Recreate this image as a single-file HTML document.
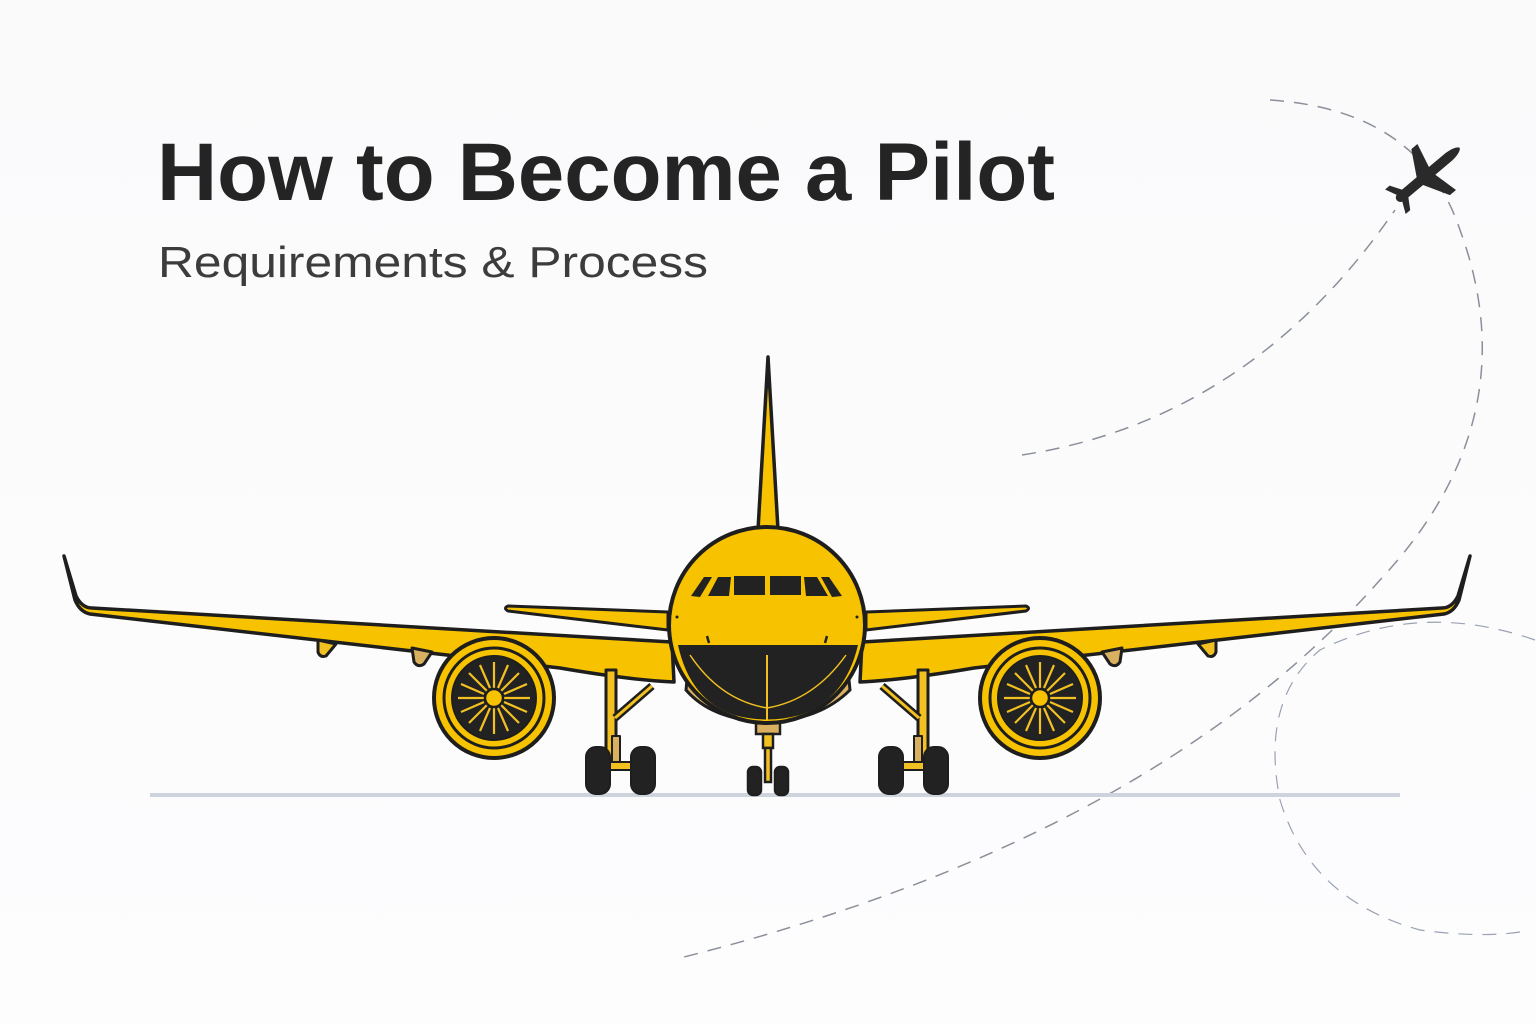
<!DOCTYPE html>
<html><head><meta charset="utf-8"><style>
html,body{margin:0;padding:0;background:#fdfdfe}
svg{display:block}
</style></head><body>
<svg width="1536" height="1024" viewBox="0 0 1536 1024" xmlns="http://www.w3.org/2000/svg">
<defs>
<linearGradient id="bg" x1="0" y1="0" x2="0" y2="1"><stop offset="0" stop-color="#fafafb"/><stop offset="1" stop-color="#fdfdfe"/></linearGradient>
<g id="half" stroke="#1e1e1e" stroke-width="4" stroke-linejoin="round">
  <!-- wing -->
  <path d="M64,556 L76,596 Q82,608 92,608 L672,642 L674,682 Q630,680 560,668 L90,614 Q80,612 75,600 Z" fill="#f7c200" stroke-width="3.5"/>
  <path d="M318,640 L318,652 Q320,658 326,656 L336,644 Z" fill="#f2c020" stroke-width="3"/>
  <path d="M412,648 L414,662 Q418,668 424,664 L432,652 Z" fill="#d8b060" stroke-width="3"/>
  <!-- stabilizer -->
  <path d="M508,606 L668,612 L668,630 L508,611 Q503,608 508,606 Z" fill="#f7c200" stroke-width="3"/>
  <!-- main gear -->
  <rect x="606" y="670" width="10" height="92" fill="#f2c020" stroke-width="3"/>
  <path d="M615,718 L652,686" stroke-width="8"/><path d="M615,718 L652,686" stroke="#f2c020" stroke-width="3"/>
  <rect x="612" y="736" width="8" height="30" fill="#d8b060" stroke-width="2"/>
  <rect x="597" y="762" width="40" height="8" fill="#f2c020" stroke-width="2"/>
  <rect x="586" y="747" width="24" height="47" rx="10" fill="#222" stroke-width="2"/>
  <rect x="631" y="747" width="24" height="47" rx="10" fill="#222" stroke-width="2"/>
  <!-- engine -->
  <circle cx="494" cy="698" r="60" fill="#f7c200" stroke-width="4"/>
  <circle cx="494" cy="698" r="50" fill="none" stroke-width="3"/>
  <circle cx="494" cy="698" r="42" fill="#222" stroke-width="2"/>
  <g stroke="#f2c020" stroke-width="2.2">
    <path d="M494,662 L494,688 M494,708 L494,734 M458,698 L484,698 M504,698 L530,698 M469,673 L487,691 M501,705 L519,723 M519,673 L501,691 M487,705 L469,723 M480,665 L490,688 M498,708 L508,731 M461,684 L484,694 M504,702 L527,712 M508,665 L498,688 M490,708 L480,731 M527,684 L504,694 M484,702 L461,712"/>
  </g>
  <circle cx="494" cy="698" r="9" fill="#f7c200" stroke-width="2.5"/>
</g>
</defs>
<rect width="1536" height="1024" fill="url(#bg)"/>
<!-- dashed flight paths -->
<g fill="none" stroke="#8a8f9a" stroke-width="1.5" stroke-dasharray="14 10">
  <path d="M1022,455 Q1250,420 1395,210"/>
  <path d="M1270,100 Q1420,110 1460,230 Q1530,420 1380,580 Q1150,840 680,958"/>
  <path d="M1535,640 Q1420,600 1320,650 Q1260,700 1280,800 Q1310,900 1420,930 Q1480,938 1520,932" stroke="#9aa2b2" stroke-width="1.2"/>
</g>
<!-- small plane icon -->
<g transform="translate(1426,176) rotate(-40)" fill="#2a2a2a">
  <path d="M-38,0 Q-38,-5 -30,-5 L-8,-5 L6,-30 L14,-30 L8,-5 L30,-5 Q42,-4 44,0 Q42,4 30,5 L8,5 L14,30 L6,30 L-8,5 L-30,5 Q-38,5 -38,0 Z"/>
  <path d="M-34,-3 L-40,-16 L-34,-16 L-26,-3 Z M-34,3 L-40,16 L-34,16 L-26,3 Z"/>
</g>
<!-- title -->
<text x="157" y="200" font-family="Liberation Sans, sans-serif" font-weight="700" font-size="82" fill="#242424" textLength="898" lengthAdjust="spacingAndGlyphs">How to Become a Pilot</text>
<text x="158" y="277" font-family="Liberation Sans, sans-serif" font-size="44" fill="#3c3c3c" textLength="550" lengthAdjust="spacingAndGlyphs">Requirements &amp; Process</text>
<!-- ground -->
<rect x="150" y="793" width="1250" height="4" fill="#cdd4de"/>
<!-- tail fin -->
<path d="M768,357 L758,530 L778,530 Z" fill="#f7c200" stroke="#1e1e1e" stroke-width="3.5" stroke-linejoin="round"/>
<use href="#half"/>
<use href="#half" transform="translate(1534,0) scale(-1,1)"/>
<!-- nose gear -->
<g stroke="#1e1e1e" stroke-width="2.5">
  <rect x="756" y="722" width="24" height="12" fill="#d8b060"/>
  <rect x="763" y="734" width="10" height="14" fill="#f2c020"/>
  <rect x="765" y="748" width="6" height="34" fill="#f2c020"/>
  <rect x="748" y="767" width="13" height="28" rx="5" fill="#222"/>
  <rect x="775" y="767" width="13" height="28" rx="5" fill="#222"/>
</g>
<!-- fuselage -->
<path d="M688,670 Q700,700 740,715 L800,715 Q840,700 848,670 L850,690 Q820,720 767,722 Q712,720 686,690 Z" fill="#d8b060" stroke="#1e1e1e" stroke-width="3"/>
<ellipse cx="767" cy="625" rx="98" ry="98" fill="#f7c200" stroke="#1e1e1e" stroke-width="4"/>
<path d="M678,645 L858,645 Q845,700 800,715 Q767,724 734,715 Q690,700 678,645 Z" fill="#222"/>
<path d="M690,655 Q720,700 767,708 Q814,700 846,655" fill="none" stroke="#f2c020" stroke-width="1.5"/>
<path d="M767,655 L767,720" stroke="#f2c020" stroke-width="2"/>
<!-- windows -->
<g fill="#222">
  <path d="M691,596 L704,577 L712,577 L700,597 Z"/>
  <path d="M708,596 L718,577 L731,577 L729,596 Z"/>
  <rect x="734" y="576" width="31" height="19"/>
  <rect x="770" y="576" width="31" height="19"/>
  <path d="M806,596 L804,577 L817,577 L828,596 Z"/>
  <path d="M832,597 L821,577 L829,577 L842,596 Z"/>
</g>
<circle cx="677" cy="617" r="1.5" fill="#222"/><circle cx="857" cy="617" r="1.5" fill="#222"/>
<path d="M707,636 L709,643 M827,636 L825,643" stroke="#222" stroke-width="2.5"/>
</svg>
</body></html>
